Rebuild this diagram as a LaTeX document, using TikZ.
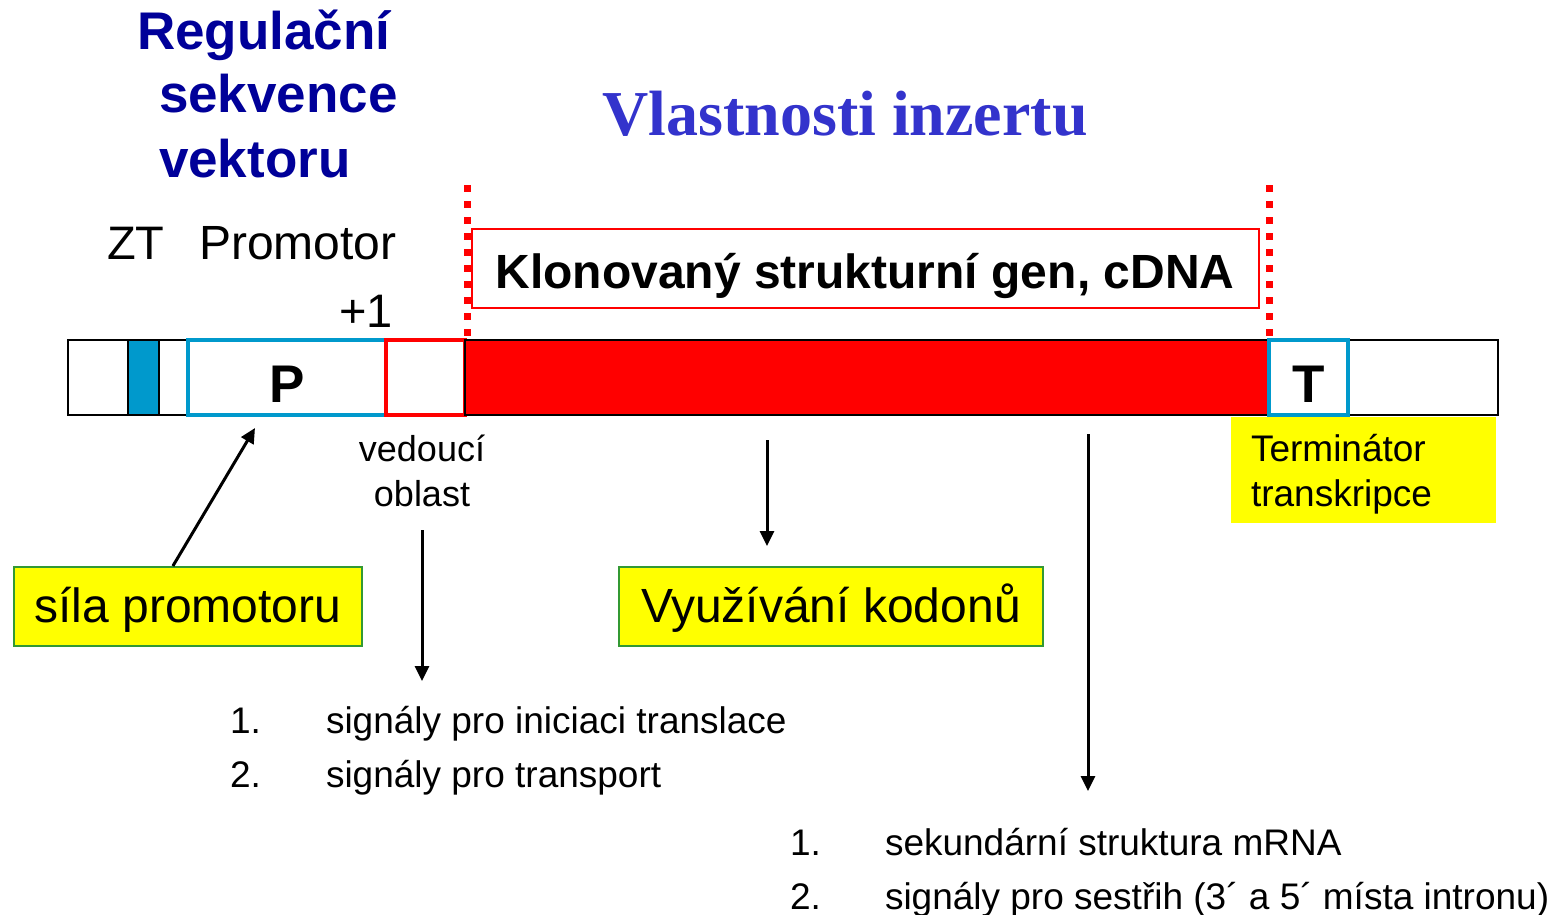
\documentclass[tikz,border=0pt]{standalone}
\usepackage{fontspec}
\setmainfont{Liberation Sans}
\newfontfamily\serifbf{Liberation Serif}
\usetikzlibrary{arrows.meta}
\definecolor{navy}{RGB}{0,0,153}
\definecolor{titleblue}{RGB}{51,51,204}
\definecolor{cyanb}{RGB}{0,153,204}
\definecolor{ygreen}{RGB}{51,153,51}
\definecolor{yel}{RGB}{255,255,0}
\newcommand{\fsz}[1]{\fontsize{#1}{#1}\selectfont}
\begin{document}
\begin{tikzpicture}[x=1pt,y=-1pt,
  txt/.style={inner sep=0pt, outer sep=0pt, anchor=base west},
  seg/.style={line width=1.5pt, minimum height=75pt, inner sep=0pt, outer sep=0pt, anchor=north west},
  letterseg/.style={seg, draw=cyanb, line width=3.5pt, fill=white, font=\fsz{53}\bfseries, text height=49pt, text depth=0pt},
  ybox/.style={fill=yel, draw=ygreen, line width=1.8pt, minimum height=79pt, inner sep=0pt, anchor=north west, font=\fsz{48}, text height=34pt, text depth=1pt},
  arr/.style={line width=3pt, -{Triangle[length=15pt,width=14pt]}},
  dotline/.style={red, line width=7pt, dash pattern=on 7pt off 9pt}
]
\useasboundingbox (0,0) rectangle (1561,915);
\fill[white] (0,0) rectangle (1561,915);

% titles
\node[txt, font=\fsz{53}\bfseries, text=navy] (r1) at (137,50) {Regulační};
\node[txt, font=\fsz{53}\bfseries, text=navy] (r2) at (159,113) {sekvence};
\node[txt, font=\fsz{53}\bfseries, text=navy] (r3) at (159,177) {vektoru};
\node[inner sep=0pt, anchor=base, font=\serifbf\fsz{64}\bfseries, text=titleblue] (vl) at (845,136) {Vlastnosti inzertu};

% labels above bar
\node[txt, font=\fsz{47}] (zt) at (107,259) {ZT};
\node[txt, font=\fsz{48}] (prom) at (199,259) {Promotor};
\node[txt, font=\fsz{47}] (plus) at (339,327) {+1};

% dotted boundaries
\coordinate (d1a) at (467,185); \coordinate (d1b) at (467,337);
\coordinate (d2a) at (1269,185); \coordinate (d2b) at (1269,337);
\draw[dotline] (d1a) -- (d1b);
\draw[dotline] (d2a) -- (d2b);

% cloned gene box
\node[draw=red, line width=1.5pt, fill=white, minimum width=787pt, minimum height=79pt, inner sep=0pt, anchor=north west] (genebox) at (471,228) {};
\node[inner sep=0pt, anchor=base, font=\fsz{48}\bfseries] (genetxt) at (865,288) {Klonovaný strukturní gen, cDNA};

% the bar
\node[seg, draw=black, fill=white, minimum width=1430pt] (bar) at (68,340) {};
\node[seg, draw=black, fill=white, minimum width=60pt] (s1) at (68,340) {};
\node[seg, draw=black, fill=cyanb, minimum width=31pt] (zts) at (128,340) {};
\node[seg, draw=black, fill=white, minimum width=29pt] (s2) at (159,340) {};
\node[letterseg, minimum width=198pt] (P) at (188,340) {P};
\node[seg, draw=red, line width=3.5pt, fill=white, minimum width=79pt] (lead) at (386,340) {};
\node[seg, draw=black, fill=red, minimum width=804pt] (gene) at (465,340) {};
\node[seg, draw=black, fill=white, minimum width=150pt] (s3) at (1348,340) {};
\node[letterseg, minimum width=79pt] (T) at (1269,340) {T};

% terminator label
\node[fill=yel, minimum width=265pt, minimum height=106pt, inner sep=0pt, anchor=north west] (termbox) at (1231,417) {};
\node[txt, font=\fsz{37}] (term1) at (1251,461) {Terminátor};
\node[txt, font=\fsz{37}] (term2) at (1251,506) {transkripce};

% leader label
\node[inner sep=0pt, anchor=base, font=\fsz{36}] (ved1) at (422,461) {vedoucí};
\node[inner sep=0pt, anchor=base, font=\fsz{36}] (ved2) at (422,506) {oblast};

% yellow boxes
\node[ybox, minimum width=348pt] (sila) at (13,566) {síla promotoru};
\node[ybox, minimum width=424pt] (kodon) at (618,566) {Využívání kodonů};

% arrows
\draw[arr] ([xshift=-15pt]sila.north) -- ([xshift=-32pt,yshift=-13pt]P.south);
\coordinate (a2s) at (422,530); \coordinate (a2e) at (422,681);
\draw[arr] (a2s) -- (a2e);
\coordinate (a3s) at (767,440); \coordinate (a3e) at (767,546);
\draw[arr] (a3s) -- (a3e);
\coordinate (a4s) at (1088,434); \coordinate (a4e) at (1088,791);
\draw[arr] (a4s) -- (a4e);

% lists
\node[txt, font=\fsz{37}] (l1n1) at (230,733) {1.};
\node[txt, font=\fsz{37}] (l1t1) at (326,733) {signály pro iniciaci translace};
\node[txt, font=\fsz{37}] (l1n2) at (230,787) {2.};
\node[txt, font=\fsz{37}] (l1t2) at (326,787) {signály pro transport};

\node[txt, font=\fsz{37}] (l2n1) at (790,855) {1.};
\node[txt, font=\fsz{37}] (l2t1) at (885,855) {sekundární struktura mRNA};
\node[txt, font=\fsz{37}] (l2n2) at (790,909) {2.};
\node[txt, font=\fsz{37}] (l2t2) at (885,909) {signály pro sestřih (3´ a 5´ místa intronu)};
\end{tikzpicture}
\end{document}
